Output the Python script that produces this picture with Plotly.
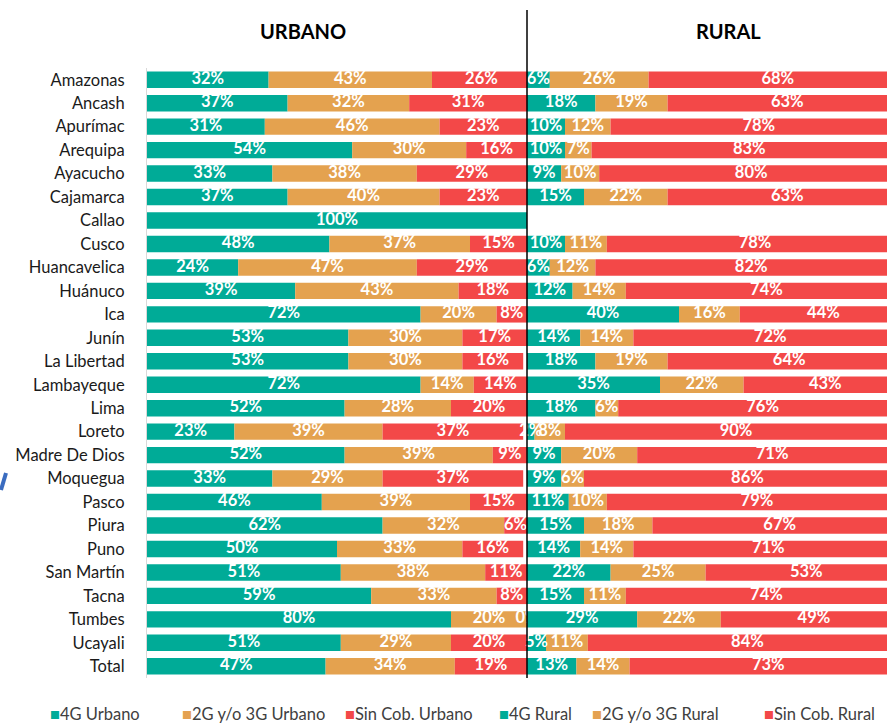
import plotly.graph_objects as go

categories = ["Amazonas", "Ancash", "Apurímac", "Arequipa", "Ayacucho", "Cajamarca", "Callao",
              "Cusco", "Huancavelica", "Huánuco", "Ica", "Junín", "La Libertad", "Lambayeque",
              "Lima", "Loreto", "Madre De Dios", "Moquegua", "Pasco", "Piura", "Puno",
              "San Martín", "Tacna", "Tumbes", "Ucayali", "Total"]

urb_4g = [32, 37, 31, 54, 33, 37, 100, 48, 24, 39, 72, 53, 53, 72, 52, 23, 52, 33, 46, 62, 50, 51, 59, 80, 51, 47]
urb_23g = [43, 32, 46, 30, 38, 40, None, 37, 47, 43, 20, 30, 30, 14, 28, 39, 39, 29, 39, 32, 33, 38, 33, 20, 29, 34]
urb_sin = [26, 31, 23, 16, 29, 23, None, 15, 29, 18, 8, 17, 16, 14, 20, 37, 9, 37, 15, 6, 16, 11, 8, 0, 20, 19]

rur_4g = [6, 18, 10, 10, 9, 15, None, 10, 6, 12, 40, 14, 18, 35, 18, 2, 9, 9, 11, 15, 14, 22, 15, 29, 5, 13]
rur_23g = [26, 19, 12, 7, 10, 22, None, 11, 12, 14, 16, 14, 19, 22, 6, 8, 20, 6, 10, 18, 14, 25, 11, 22, 11, 14]
rur_sin = [68, 63, 78, 83, 80, 63, None, 78, 82, 74, 44, 72, 64, 43, 76, 90, 71, 86, 79, 67, 71, 53, 74, 49, 84, 73]

series_names = ["4G Urbano", "2G y/o 3G Urbano", "Sin Cob. Urbano", "4G Rural", "2G y/o 3G Rural", "Sin Cob. Rural"]
colors = ["#00AB97", "#E4A24F", "#F34848"]

FONT = "Lato, 'Open Sans', sans-serif"

fig = go.Figure()


def add_stack(vals_list, names, xaxis):
    base = [0.0] * len(categories)
    for vals, name, col in zip(vals_list, names, colors):
        v = [x if x is not None else 0 for x in vals]
        fig.add_trace(go.Bar(
            y=categories, x=v, base=base[:], orientation="h", name=name,
            marker=dict(color=col, line=dict(width=0)), xaxis=xaxis, yaxis="y",
            showlegend=False, hoverinfo="skip"))
        cx, cy, ct = [], [], []
        for i, x in enumerate(vals):
            if x is None:
                continue
            cx.append(base[i] + x / 2.0)
            cy.append(categories[i])
            ct.append(f"{x}%")
        fig.add_trace(go.Scatter(
            x=cx, y=cy, text=ct, mode="text", xaxis=xaxis, yaxis="y",
            textfont=dict(family=FONT, size=16.5, color="white", weight="bold"),
            cliponaxis=False, showlegend=False, hoverinfo="skip"))
        base = [b + (x if x is not None else 0) for b, x in zip(base, vals)]


add_stack([urb_4g, urb_23g, urb_sin], series_names[:3], "x")
add_stack([rur_4g, rur_23g, rur_sin], series_names[3:], "x2")

L, T, B = 147, 68, 47
PW, PH = 887 - L, 725 - T - B
split = (527 - L) / PW
fig.update_layout(
    width=887, height=725,
    margin=dict(l=L, r=0, t=T, b=B, autoexpand=False),
    paper_bgcolor="white", plot_bgcolor="white",
    barmode="overlay", bargap=0.3,
    font=dict(family=FONT, size=14, color="#1a1a1a"),
    xaxis=dict(domain=[0, split], range=[0, 100], visible=False, fixedrange=True, automargin=False),
    xaxis2=dict(domain=[split, 1], range=[0, 100 * (887 - 527) / 380.0], visible=False,
                anchor="y", fixedrange=True, automargin=False),
    yaxis=dict(range=[len(categories) - 0.5, -0.5], showgrid=False, showline=True,
               linecolor="#d9d9d9", linewidth=1, ticks="", ticklabelstandoff=18,
               automargin=False, fixedrange=True,
               tickfont=dict(family=FONT, size=16.5, color="#1a1a1a")),
)

# divider line between panels
fig.add_shape(type="line", xref="paper", yref="paper", x0=split, x1=split,
              y0=0, y1=1 + 58 / PH, line=dict(color="black", width=1.5))

# small blue stroke at left edge
fig.add_shape(type="line", xref="paper", yref="paper",
              x0=(1 - L) / PW, y0=(725 - B - 490) / PH, x1=(6 - L) / PW, y1=(725 - B - 473) / PH,
              line=dict(color="#3A6CC0", width=4))

# panel headers
fig.add_annotation(text="<b>URBANO</b>", xref="paper", yref="paper", x=(303 - L) / PW,
                   y=1 + 37 / PH, xanchor="center", yanchor="middle", showarrow=False,
                   font=dict(family=FONT, size=20, color="black"))
fig.add_annotation(text="<b>RURAL</b>", xref="paper", yref="paper", x=(728 - L) / PW,
                   y=1 + 37 / PH, xanchor="center", yanchor="middle", showarrow=False,
                   font=dict(family=FONT, size=20, color="black"))

# manual legend
leg_x = [48, 180, 343, 497, 590, 762]
leg_cols = colors + colors
for name, lx, col in zip(series_names, leg_x, leg_cols):
    fig.add_annotation(
        text=f'<span style="color:{col}">■</span>{name}', xref="paper", yref="paper",
        x=(lx - L) / PW, y=-36 / PH, xanchor="left", yanchor="middle",
        showarrow=False, font=dict(family=FONT, size=16.5, color="#404040"))

fig.write_html("out.html", config={"displayModeBar": False},
               post_script="document.body.style.margin='0';document.body.style.overflow='hidden';")
